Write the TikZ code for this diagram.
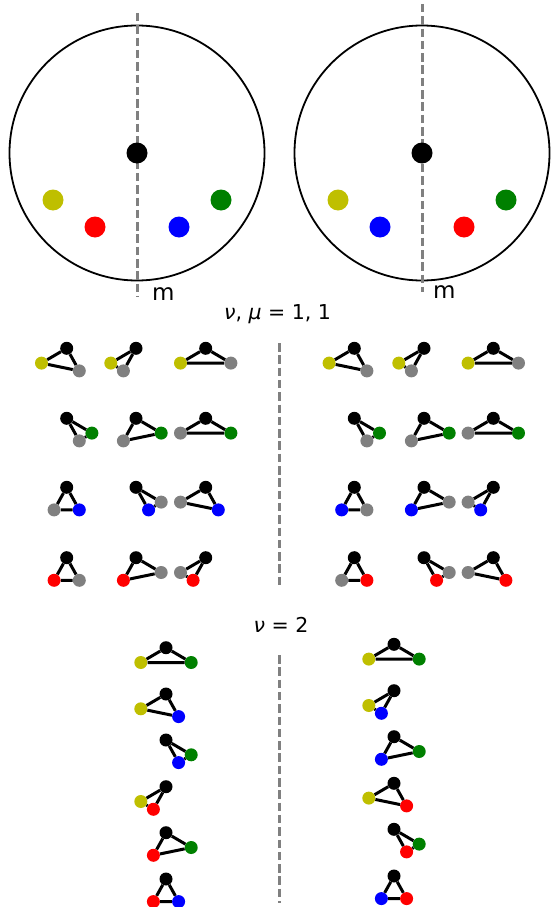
\documentclass[tikz,border=0pt]{standalone}
\usepackage{fontspec}
\setmainfont{DejaVu Sans}
\definecolor{molY}{rgb}{0.75,0.75,0}
\definecolor{molG}{rgb}{0,0.5,0}
\tikzset{
  atom/.style={circle, inner sep=0pt, minimum size=13pt},
  bigatom/.style={circle, inner sep=0pt, minimum size=21pt},
  bond/.style={line width=3pt},
  mirror/.style={draw=gray, line width=3pt, dash pattern=on 8.5pt off 3.8pt},
  % 작은 분자의 자리
  slotY/.style={shift={(-25.2,14.8)}},
  slotR/.style={shift={(-12.6,22.6)}},
  slotB/.style={shift={(12.6,22.6)}},
  slotG/.style={shift={(25.2,14.8)}},
}
% 이름, 중심, 색1, 자리1, 색2, 자리2
\newcommand\mol[6]{%
  \begin{scope}[shift={(#2)}]
    \node[atom, fill=black] (#1o) at (0,0) {};
    \node[atom, fill=#3, #4] (#1a) at (0,0) {};
    \node[atom, fill=#5, #6] (#1b) at (0,0) {};
  \end{scope}
  \draw[bond] (#1o) -- (#1a) -- (#1b) -- (#1o);
}
\begin{document}
\begin{tikzpicture}[x=1pt, y=-1pt]
  \useasboundingbox (0,0) rectangle (550,907);
  \fontsize{20.5}{24}\selectfont
  % 왼쪽 원
  \draw[line width=1.8pt] (137,153) circle (127.5);
  \draw[mirror] (137,13) -- (137,297);
  \node[anchor=base west, font=\fontsize{23}{26}\selectfont] (mL) at (145,300.5) {m};
  \node[bigatom, fill=black] (cL) at (137,153) {};
  \node[bigatom, fill=molY] (yL) at (53,200) {};
  \node[bigatom, fill=red] (rL) at (95,227) {};
  \node[bigatom, fill=blue] (bL) at (179,227) {};
  \node[bigatom, fill=molG] (gL) at (221,200) {};
  % 오른쪽 원
  \draw[line width=1.8pt] (422,153) circle (127.5);
  \draw[mirror] (422,4) -- (422,292);
  \node[anchor=base west, font=\fontsize{23}{26}\selectfont] (mR) at (426,298.5) {m};
  \node[bigatom, fill=black] (cR) at (422,153) {};
  \node[bigatom, fill=molY] (yR) at (338,200) {};
  \node[bigatom, fill=blue] (bR) at (380,227) {};
  \node[bigatom, fill=red] (rR) at (464,227) {};
  \node[bigatom, fill=molG] (gR) at (506,200) {};
  % nu, mu = 1, 1
  \node[anchor=base] (t1) at (277.5,319.5) {{\itshape ν}, {\itshape μ} = 1, 1};
  \draw[mirror] (279,343) -- (279,588);
  \mol{p1}{66.7,348.3}{molY}{slotY}{gray}{slotB}
  \mol{p2}{136,348.3}{molY}{slotY}{gray}{slotR}
  \mol{p3}{205.7,348.3}{molY}{slotY}{gray}{slotG}
  \mol{p4}{66.7,418.3}{molG}{slotG}{gray}{slotB}
  \mol{p5}{136,418.3}{molG}{slotG}{gray}{slotR}
  \mol{p6}{205.7,418.3}{gray}{slotY}{molG}{slotG}
  \mol{p7}{66.7,487.3}{gray}{slotR}{blue}{slotB}
  \mol{p8}{136,487.3}{gray}{slotG}{blue}{slotB}
  \mol{p9}{205.7,487.3}{gray}{slotY}{blue}{slotB}
  \mol{p10}{66.7,557.7}{red}{slotR}{gray}{slotB}
  \mol{p11}{136,557.7}{red}{slotR}{gray}{slotG}
  \mol{p12}{205.7,557.7}{gray}{slotY}{red}{slotR}
  \mol{q1}{354.3,348.3}{molY}{slotY}{gray}{slotB}
  \mol{q2}{424,348.3}{molY}{slotY}{gray}{slotR}
  \mol{q3}{493.3,348.3}{molY}{slotY}{gray}{slotG}
  \mol{q4}{354.3,418.3}{molG}{slotG}{gray}{slotB}
  \mol{q5}{424,418.3}{molG}{slotG}{gray}{slotR}
  \mol{q6}{493.3,418.3}{gray}{slotY}{molG}{slotG}
  \mol{q7}{354.3,487.3}{blue}{slotR}{gray}{slotB}
  \mol{q8}{424,487.3}{blue}{slotR}{gray}{slotG}
  \mol{q9}{493.3,487.3}{gray}{slotY}{blue}{slotR}
  \mol{q10}{354.3,557.7}{gray}{slotR}{red}{slotB}
  \mol{q11}{424,557.7}{red}{slotB}{gray}{slotG}
  \mol{q12}{493.3,557.7}{gray}{slotY}{red}{slotB}
  % nu = 2
  \node[anchor=base] (t2) at (281,632.5) {{\itshape ν} = 2};
  \draw[mirror] (279,655) -- (279,903);
  \mol{s1}{166,647.7}{molY}{slotY}{molG}{slotG}
  \mol{s2}{166,694}{molY}{slotY}{blue}{slotB}
  \mol{s3}{166,740}{molG}{slotG}{blue}{slotB}
  \mol{s4}{166,786.7}{molY}{slotY}{red}{slotR}
  \mol{s5}{166,832.7}{red}{slotR}{molG}{slotG}
  \mol{s6}{166,879}{red}{slotR}{blue}{slotB}
  \mol{u1}{394,644.3}{molY}{slotY}{molG}{slotG}
  \mol{u2}{394,690.7}{molY}{slotY}{blue}{slotR}
  \mol{u3}{394,736.7}{blue}{slotR}{molG}{slotG}
  \mol{u4}{394,783.3}{molY}{slotY}{red}{slotB}
  \mol{u5}{394,829.3}{molG}{slotG}{red}{slotB}
  \mol{u6}{394,876}{blue}{slotR}{red}{slotB}
\end{tikzpicture}
\end{document}
